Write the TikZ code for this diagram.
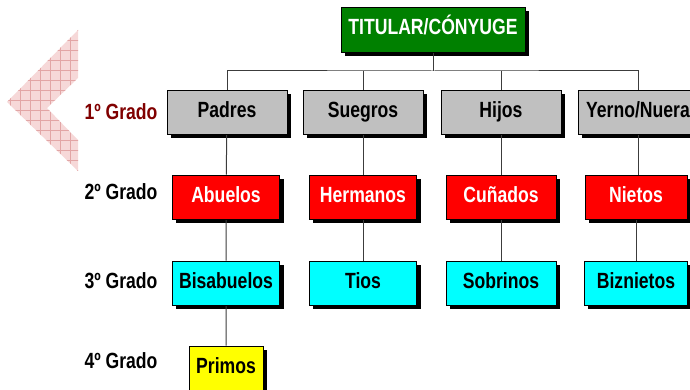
\documentclass[tikz,border=0pt]{standalone}
\usepackage{fontspec}
\setmainfont{Liberation Sans}[FakeStretch=0.8]
\usetikzlibrary{backgrounds}
\definecolor{titgreen}{RGB}{0,128,0}
\definecolor{boxgray}{RGB}{192,192,192}
\definecolor{boxred}{RGB}{255,0,0}
\definecolor{boxcyan}{RGB}{0,255,255}
\definecolor{boxyellow}{RGB}{255,255,0}
\definecolor{gradored}{RGB}{128,0,0}
\definecolor{wire}{RGB}{60,60,60}
\definecolor{chevfill}{RGB}{246,216,216}
\definecolor{chevline}{RGB}{226,165,165}
\tikzset{
  box/.style={draw=black, line width=0.8pt, inner sep=0pt, minimum height=44pt,
    text height=15.5pt, text depth=4.5pt,
    font=\fontsize{22}{26}\selectfont\bfseries},
  titbox/.style={box, fill=titgreen, text=white, minimum width=184pt, minimum height=45pt},
  grado1/.style={box, fill=boxgray, minimum width=120pt},
  grado2/.style={box, fill=boxred, text=white, minimum width=107pt},
  grado3/.style={box, fill=boxcyan, minimum width=107pt},
  grado4/.style={box, fill=boxyellow, minimum width=74pt},
  gradolabel/.style={font=\fontsize{22}{26}\selectfont\bfseries},
  wireline/.style={draw=wire, line width=1pt}
}
\begin{document}
\begin{tikzpicture}[x=1pt, y=-1pt]
\useasboundingbox (0,0) rectangle (690,390);
% flecha de fondo
\begin{scope}
  \clip (78,30) -- (7,102) -- (78,171) -- (78,140) -- (47,108) -- (78,78) -- cycle;
  \fill[chevfill] (0,25) rectangle (80,175);
  \foreach \k in {0,10,...,80} \draw[chevline, line width=0.6pt] (\k,20) -- (\k,180);
  \foreach \k in {20,30,...,180} \draw[chevline, line width=0.6pt] (0,\k) -- (80,\k);
\end{scope}

\node[gradolabel, text=gradored] (g1) at (121,112) {1º Grado};
\node[gradolabel] (g2) at (121,192) {2º Grado};
\node[gradolabel] (g3) at (121,281) {3º Grado};
\node[gradolabel] (g4) at (121,361) {4º Grado};

\coordinate (bus) at (433,71);
\node[titbox] (titular) at (433,29.5) {TITULAR/CÓNYUGE};

\node[grado1] (padres)  at (227,112) {Padres};
\node[grado1] (suegros) at (363,112) {Suegros};
\node[grado1] (hijos)   at (501,112) {Hijos};
\node[grado1] (yerno)   at (638,112) {Yerno/Nuera};

\node[grado2] (abuelos)  at (226,197) {Abuelos};
\node[grado2] (hermanos) at (363,197) {Hermanos};
\node[grado2, minimum width=110pt] (cunados) at (501,197) {Cuñados};
\node[grado2, minimum width=102pt] (nietos)  at (636,197) {Nietos};

\node[grado3] (bisabuelos) at (226,283) {Bisabuelos};
\node[grado3] (tios)       at (363,283) {Tios};
\node[grado3, minimum width=110pt] (sobrinos) at (501,283) {Sobrinos};
\node[grado3, minimum width=103pt] (biznietos) at (636,283) {Biznietos};

\node[grado4] (primos) at (226,368) {Primos};

\begin{scope}[on background layer]
% sombras
\foreach \n in {titular,padres,suegros,hijos,yerno,abuelos,hermanos,cunados,nietos,
    bisabuelos,tios,sobrinos,biznietos,primos}
  \fill[black] ([shift={(4,4)}]\n.north west) rectangle ([shift={(4,4)}]\n.south east);
\draw[wireline] (titular.south) -- (bus);
\draw[wireline] (padres.north) |- (bus) -| (yerno.north);
\draw[wireline] (suegros.north) -- (suegros.north |- bus);
\draw[wireline] (hijos.north) -- (hijos.north |- bus);
\draw[wireline] (padres) -- (abuelos) (abuelos) -- (bisabuelos) (bisabuelos) -- (primos);
\draw[wireline] (suegros) -- (hermanos) (hermanos) -- (tios);
\draw[wireline] (hijos) -- (cunados) (cunados) -- (sobrinos);
\draw[wireline] (yerno.south) -- (yerno.south |- nietos.north);
\draw[wireline] (nietos.south) -- (nietos.south |- biznietos.north);
\end{scope}
\end{tikzpicture}
\end{document}
